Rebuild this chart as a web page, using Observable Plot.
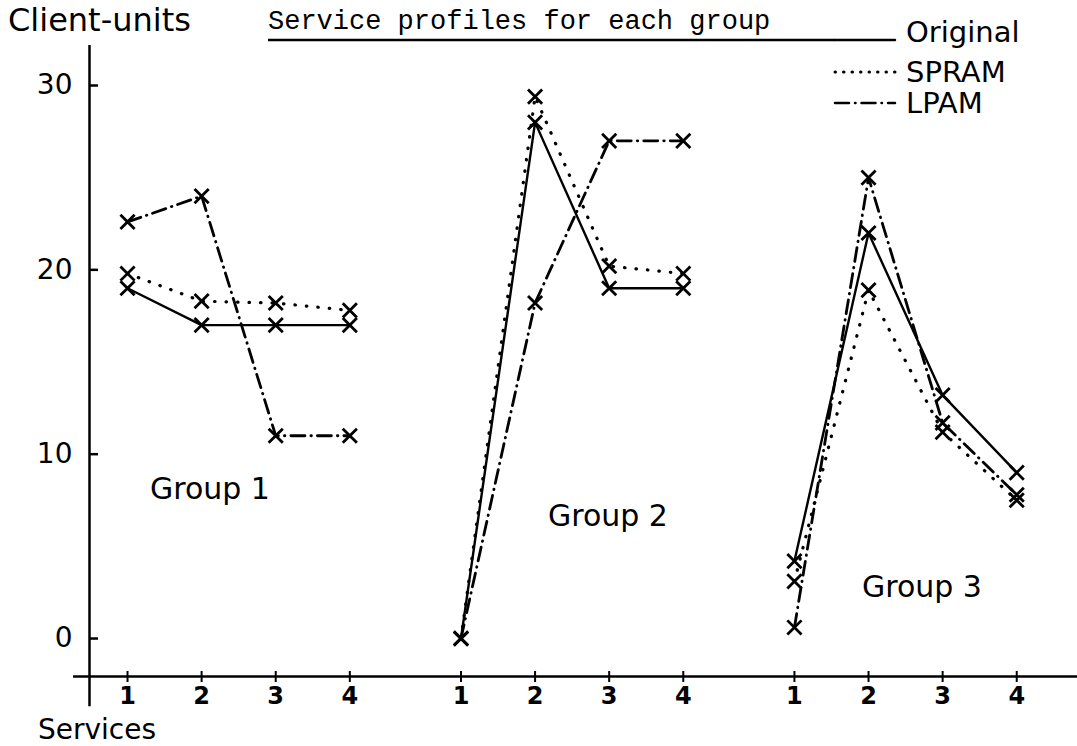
<!DOCTYPE html>
<html><head><meta charset="utf-8">
<script src="https://cdn.jsdelivr.net/npm/d3@7"></script>
<script src="https://cdn.jsdelivr.net/npm/@observablehq/plot@0.6"></script>
<style>
body{margin:0;background:#fff;}
#wrap{position:relative;width:1077px;height:746px;overflow:hidden;background:#fff;color:#000;}
#chart{position:absolute;left:0;top:0;}
.hand{position:absolute;font-family:"DejaVu Sans",sans-serif;font-size:30px;white-space:nowrap;line-height:1;}
#title{position:absolute;left:268px;top:9px;font-family:"Liberation Mono",monospace;font-size:27px;line-height:1;white-space:nowrap;}
#legend{position:absolute;left:0;top:0;}
</style></head><body>
<div id="wrap">
  <div id="chart"></div>
  <div id="title">Service profiles for each group</div>
  <div class="hand" style="left:8px;top:4px;font-size:32px;">Client-units</div>
  <div class="hand" style="left:38px;top:716px;font-size:28px;">Services</div>
  <div class="hand" id="g1" style="left:150px;top:474px;"></div>
  <div class="hand" id="g2" style="left:548px;top:501px;"></div>
  <div class="hand" id="g3" style="left:862px;top:572px;"></div>
  <svg id="legend" width="1077" height="130"></svg>
</div>
<script>
// ---- data ----
const groups = ["Group 1", "Group 2", "Group 3"];
const services = ["1", "2", "3", "4"];
const seriesNames = ["Original", "SPRAM", "LPAM"];
// values per group, services 1..4
const original = [[19, 17, 17, 17], [0, 28, 19, 19], [4.2, 22, 13.2, 9]];
const spram    = [[19.8, 18.3, 18.2, 17.8], [0, 29.4, 20.2, 19.8], [3.1, 18.9, 11.2, 7.5]];
const lpam     = [[22.6, 24, 11, 11], [0, 18.2, 27, 27], [0.6, 25, 11.7, 7.8]];
const yTicks = [0, 10, 20, 30];

// ---- layout / style ----
const GAP = 0.5;
const dashes = {Original: null, SPRAM: "0.5,11", LPAM: "14,6,0.5,6"};
const widths = {Original: 2.4, SPRAM: 3.2, LPAM: 2.8};
const ink = "#000";

const seriesVals = {Original: original, SPRAM: spram, LPAM: lpam};
const rows = [];
groups.forEach((g, gi) => services.forEach((s, si) => {
  const pos = gi * (services.length + GAP) + si + 1;
  seriesNames.forEach(name => rows.push({group: g, service: s, pos, series: name, value: seriesVals[name][gi][si]}));
}));
const positions = Array.from(new Set(rows.map(d => d.pos)));
const labelOf = new Map(rows.map(d => [d.pos, d.service]));

const xDomain = [0.487, 13.82];
const yDomain = [-2.06, 32.17];
const yAxisBottom = -3.7;

const marks = [
  Plot.ruleX([xDomain[0]], {y1: yAxisBottom, y2: yDomain[1], stroke: ink, strokeWidth: 2.5}),
  Plot.ruleY([yDomain[0]], {insetLeft: -16, stroke: ink, strokeWidth: 2.5}),
  Plot.tickY(yTicks, {y: d => d, insetRight: 1077 - 89 - 9, stroke: ink, strokeWidth: 2.5}),
  Plot.axisY({ticks: yTicks, tickSize: 0, tickPadding: 17, fontSize: 28, fontFamily: "DejaVu Sans", fill: ink, label: null}),
  Plot.axisX({ticks: positions, tickFormat: d => labelOf.get(d), tickSize: 6, tickPadding: 4, fontSize: 24, fontWeight: "bold", fontFamily: "DejaVu Sans", stroke: ink, fill: ink, strokeWidth: 2, label: null}),
  Plot.tickX(positions, {x: d => d, insetTop: 676 - 45 - 5, stroke: ink, strokeWidth: 2})
];
seriesNames.forEach(name => {
  const data = rows.filter(d => d.series === name);
  marks.push(Plot.line(data, {x: "pos", y: "value", z: "group", stroke: ink, strokeWidth: widths[name],
    strokeDasharray: dashes[name], strokeLinecap: "round"}));
});
marks.push(Plot.dot(rows, {x: "pos", y: "value", symbol: "times", r: 6.5, stroke: ink, strokeWidth: 2.8}));

const chart = Plot.plot({
  width: 1077, height: 746,
  marginLeft: 89, marginRight: 0, marginTop: 45, marginBottom: 70,
  x: {domain: xDomain, label: null},
  y: {domain: yDomain, label: null},
  style: {background: "white", color: ink, fontFamily: "DejaVu Sans"},
  marks
});
document.getElementById("chart").append(chart);

document.getElementById("g1").textContent = groups[0];
document.getElementById("g2").textContent = groups[1];
document.getElementById("g3").textContent = groups[2];

// legend
const lg = d3.select("#legend");
lg.append("line").attr("x1", 268).attr("x2", 835).attr("y1", 40).attr("y2", 40).attr("stroke", ink).attr("stroke-width", 2.5);
const legY = [40, 72, 103];
seriesNames.forEach((name, i) => {
  lg.append("line").attr("x1", 835).attr("x2", 895).attr("y1", legY[i]).attr("y2", legY[i])
    .attr("stroke", ink).attr("stroke-width", name === "SPRAM" ? 3 : 2.5)
    .attr("stroke-linecap", "round")
    .attr("stroke-dasharray", name === "SPRAM" ? "0.5,8" : dashes[name]);
  lg.append("text").attr("x", 906).attr("y", legY[i] - (i === 0 ? 8 : 0)).attr("dy", "0.35em")
    .attr("font-family", "DejaVu Sans").attr("font-size", 29).attr("fill", ink).text(name);
});
</script>
</body></html>
